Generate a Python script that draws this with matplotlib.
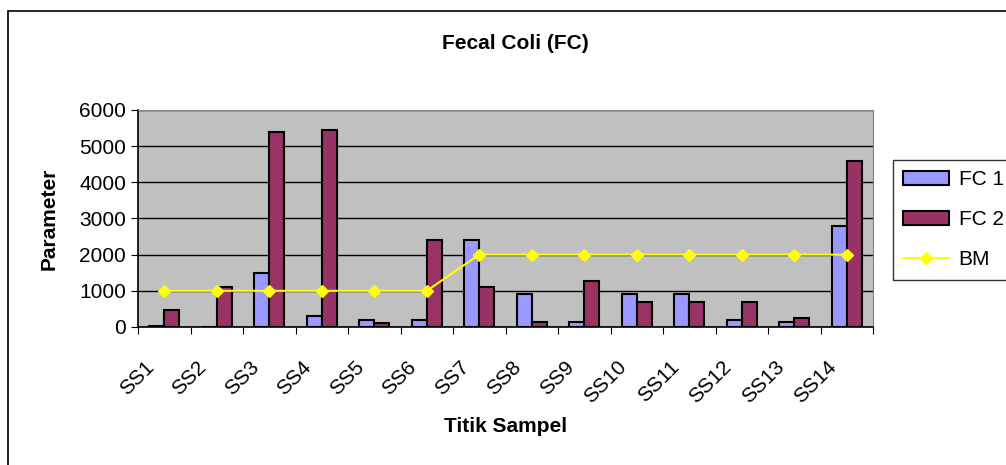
import numpy as np
import matplotlib
matplotlib.use("Agg")
import matplotlib.pyplot as plt
import matplotlib.transforms as mtransforms
from matplotlib.patches import Rectangle

plt.rcParams['font.family'] = ['Liberation Sans', 'DejaVu Sans']

# sample points and fecal coliform counts
stations = ["SS1", "SS2", "SS3", "SS4", "SS5", "SS6", "SS7",
            "SS8", "SS9", "SS10", "SS11", "SS12", "SS13", "SS14"]
fc1 = [40, 0, 1500, 300, 200, 200, 2400, 900, 150, 900, 900, 200, 150, 2800]
fc2 = [470, 1100, 5400, 5450, 100, 2400, 1100, 150, 1280, 700, 700, 700, 260, 4600]
bm = [1000, 1000, 1000, 1000, 1000, 1000, 2000,
      2000, 2000, 2000, 2000, 2000, 2000, 2000]

fig = plt.figure(figsize=(10.06, 4.65), dpi=100)
ax = fig.add_axes([0.1372, 0.2968, 0.7306, 0.4667])
ax.set_facecolor("#C0C0C0")

x = np.arange(len(stations))
w = 0.2857
b1 = ax.bar(x - w / 2, fc1, w, color="#9999FF", edgecolor="black", linewidth=1.5,
            label="FC 1", zorder=3)
b2 = ax.bar(x + w / 2, fc2, w, color="#993366", edgecolor="black", linewidth=1.5,
            label="FC 2", zorder=3)
ln, = ax.plot(x, bm, color="#FFFF00", linewidth=1.5, marker="D", markersize=6,
              label="BM", zorder=4)

ax.set_xlim(-0.5, len(stations) - 0.5)
ax.set_ylim(0, 6000)
ax.set_yticks(np.arange(0, 6001, 1000))
ax.yaxis.grid(True, color="black", linewidth=1.0, zorder=1)
ax.set_axisbelow(True)

# category boundaries get the ticks, names sit at the centres
ax.set_xticks(np.arange(-0.5, len(stations), 1.0))
ax.set_xticklabels([])
ax.set_xticks(x, minor=True)
ax.set_xticklabels(stations, minor=True, rotation=45, ha="right",
                   rotation_mode="anchor", fontsize=15)
ax.tick_params(axis="x", which="minor", length=0, pad=14)
ax.tick_params(axis="x", which="major", length=5, direction="out")
ax.tick_params(axis="y", length=5, direction="out", labelsize=15)

shift = mtransforms.ScaledTranslation(-0.20, -0.11, fig.dpi_scale_trans)
for lab in ax.get_xticklabels(minor=True):
    lab.set_transform(lab.get_transform() + shift)

for side in ("top", "right"):
    ax.spines[side].set_color("#808080")
for side in ("left", "bottom"):
    ax.spines[side].set_color("black")
    ax.spines[side].set_linewidth(1.2)

ax.set_title("Fecal Coli (FC)", fontsize=15, fontweight="bold", pad=44, x=0.514)
ax.set_ylabel("Parameter", fontsize=15, fontweight="bold", labelpad=15)
ax.set_xlabel("Titik Sampel", fontsize=15, fontweight="bold", labelpad=7)

leg = fig.legend([b1, b2, ln], ["FC 1", "FC 2", "BM"], loc="upper left",
                 bbox_to_anchor=(893 / 1006, 1 - 160 / 465), borderaxespad=0,
                 fontsize=15, frameon=True, fancybox=False, edgecolor="black",
                 handlelength=2.2, handleheight=0.65, labelspacing=1.0,
                 borderpad=0.5, handletextpad=0.45)
leg.get_frame().set_linewidth(1.0)

# chart area border
fig.patches.append(Rectangle((8 / 1006, -0.1), 1.2, 1.1 - 11 / 465,
                             transform=fig.transFigure, fill=False,
                             edgecolor="black", linewidth=1.2, zorder=0))

fig.savefig("out.png", dpi=100)
